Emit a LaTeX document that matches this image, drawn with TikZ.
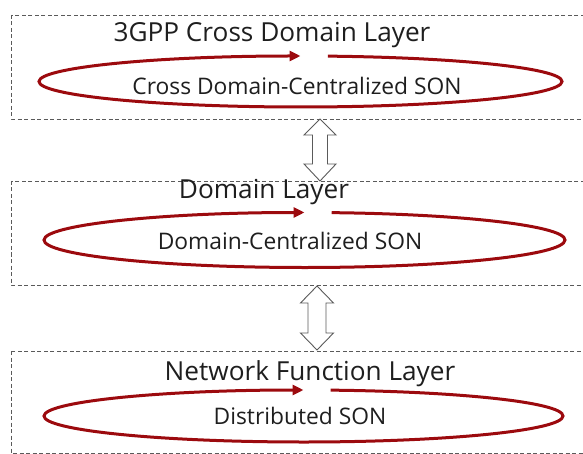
\documentclass[tikz,border=0pt]{standalone}
\usepackage{fontspec}
\setmainfont{Open Sans}
\usetikzlibrary{arrows.meta,calc}
\definecolor{sonred}{HTML}{9C0A0E}
\definecolor{dashgray}{HTML}{5A5A5A}
\definecolor{txt}{HTML}{1E1E1E}
\tikzset{
  layerbox/.style={draw=dashgray, line width=0.9pt, dash pattern=on 4pt off 2.5pt},
  titletext/.style={anchor=base, inner sep=0pt, text=txt, font=\fontsize{26.2}{30}\selectfont},
  sontext/.style={anchor=base, inner sep=0pt, text=txt, font=\fontsize{22.8}{26}\selectfont},
  sonloop/.style={draw=sonred, line width=3pt, -{Triangle[length=11pt,width=10pt]}},
  dblarrow/.style={draw=dashgray, line width=0.9pt, fill=white, line join=miter},
}
\begin{document}
\begin{tikzpicture}[x=1pt,y=-1pt]
\useasboundingbox (0,0) rectangle (583,454);
\begin{scope}
\clip (0,0) rectangle (583,454);
% layer boxes
\draw[layerbox] (11,15) rectangle (600,119);
\draw[layerbox] (11,181) rectangle (600,285);
\draw[layerbox] (11,351) rectangle (600,453);
\coordinate (b1s) at (320,119);
\coordinate (b2n) at (320,181);
\coordinate (b2s) at (317,286);
\coordinate (b3n) at (317,350);
% titles
\node[titletext] (t1) at (272,42) {3GPP Cross Domain Layer};
\node[titletext] (t2) at (264,199) {Domain Layer};
\node[titletext] (t3) at (310,380) {Network Function Layer};
% SON loops
\draw[sonloop] (300.5,81.5) ++(276:261.5 and 25.5) arc[start angle=276, end angle=630, x radius=261.5, y radius=25.5];
\draw[sonloop] (304.5,240) ++(276:260.5 and 27.5) arc[start angle=276, end angle=630, x radius=260.5, y radius=27.5];
\draw[sonloop] (303.5,416) ++(276:259.5 and 26) arc[start angle=276, end angle=630, x radius=259.5, y radius=26];
\node[sontext] (s1) at (297,95) {Cross Domain-Centralized SON};
\node[sontext] (s2) at (290,250) {Domain-Centralized SON};
\node[sontext] (s3) at (300,424) {Distributed SON};
% double arrows
\draw[dblarrow] (b1s) -- ++(16,16) -- ++(-8.5,0) -- ($(b2n)+(7.5,-17)$) -- ++(8.5,0) -- (b2n) -- ++(-16,-17) -- ++(8.5,0) -- ($(b1s)+(-7.5,16)$) -- ++(-8.5,0) -- cycle;
\draw[dblarrow] (b2s) -- ++(16.5,17) -- ++(-7.5,0) -- ($(b3n)+(9,-17)$) -- ++(7.5,0) -- (b3n) -- ++(-16.5,-17) -- ++(7.5,0) -- ($(b2s)+(-9,17)$) -- ++(-7.5,0) -- cycle;
\end{scope}
\end{tikzpicture}
\end{document}
